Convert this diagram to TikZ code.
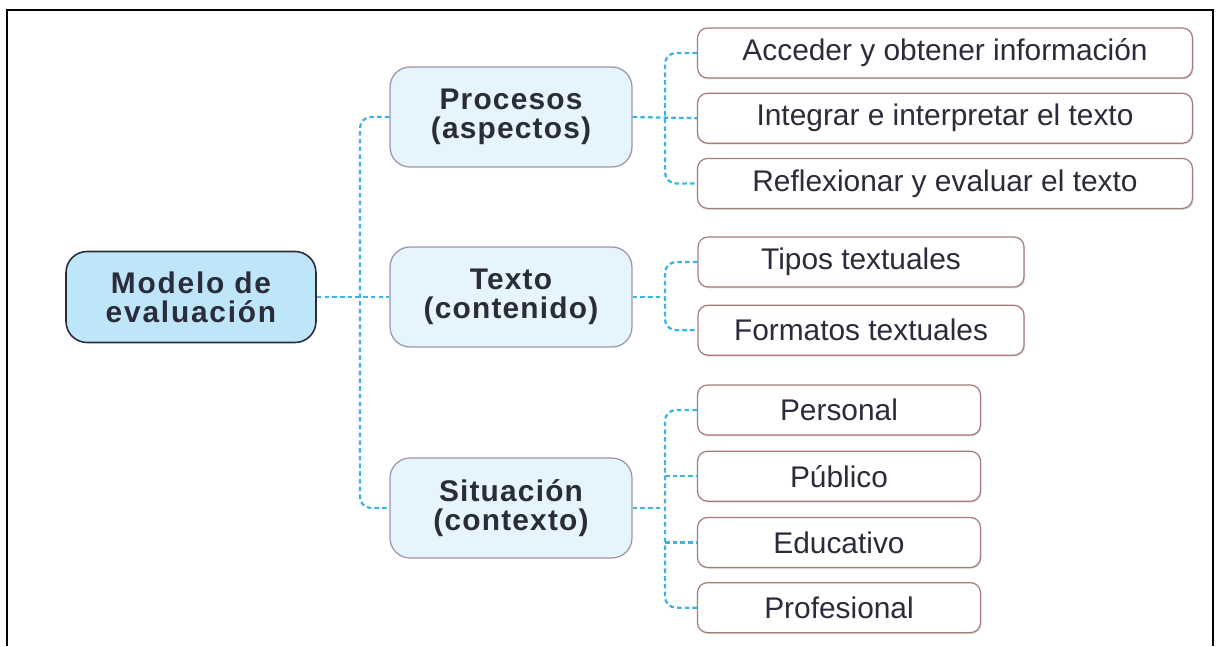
\documentclass[tikz,border=0pt]{standalone}
\usepackage{fontspec}
\setmainfont{Liberation Sans}
\usetikzlibrary{positioning,shadows}

\definecolor{azulfuerte}{HTML}{BEE5F8}
\definecolor{azulclaro}{HTML}{E6F4FC}
\definecolor{enlace}{HTML}{3BB4E4}
\definecolor{bordeho}{HTML}{A47C7A}
\definecolor{bordemed}{HTML}{9C93AE}
\definecolor{tinta}{HTML}{2A2C3C}

\begin{document}
\begin{tikzpicture}[
        x=0.02cm, y=-0.02cm, % coordenadas en pixeles
        raiz/.style={draw=tinta, line width=0.9pt, fill=azulfuerte, rounded corners=0.42cm,
            minimum width=5cm, minimum height=1.82cm, align=center, text=tinta,
            font=\fontsize{17}{16.5}\selectfont\bfseries\addfontfeature{LetterSpace=6}}, % nodo principal
        rama/.style={draw=bordemed, line width=0.7pt, fill=azulclaro, rounded corners=0.4cm,
            minimum width=4.84cm, minimum height=2cm, align=center, text=tinta,
            font=\fontsize{17}{16.5}\selectfont\bfseries\addfontfeature{LetterSpace=4}}, % nodos intermedios
        hoja/.style={draw=bordeho, line width=0.7pt, fill=white, rounded corners=0.2cm,
            minimum height=1cm, text=tinta, font=\fontsize{17}{18}\selectfont,
            drop shadow={opacity=0.25, shadow xshift=0.6pt, shadow yshift=-0.8pt}}, % hojas
        enlace/.style={draw=enlace, line width=1.3pt, dash pattern=on 2.6pt off 1.8pt,
            rounded corners=0.22cm},
    ]

    \useasboundingbox (0,0) rectangle (1219,646);
    \draw[line width=1.5pt] (7,646) -- (7,10) -- (1213,10) -- (1213,646); % marco

    \node[raiz] (modelo) at (191,297) {Modelo de\\evaluación};

    \node[rama] (procesos) at (511,117) {Procesos\\(aspectos)};
    \node[rama] (texto) at (511,297) {Texto\\(contenido)};
    \node[rama] (situacion) at (511,508) {Situación\\(contexto)};

    \node[hoja, minimum width=9.9cm] (acceder) at (945,53) {Acceder y obtener información};
    \node[hoja, minimum width=9.9cm, below=0.28cm of acceder] (integrar) {Integrar e interpretar el texto};
    \node[hoja, minimum width=9.9cm, below=0.28cm of integrar] (reflexionar) {Reflexionar y evaluar el texto};

    \node[hoja, minimum width=6.52cm] (tipos) at (861,262) {Tipos textuales};
    \node[hoja, minimum width=6.52cm, below=0.34cm of tipos] (formatos) {Formatos textuales};

    \node[hoja, minimum width=5.66cm] (personal) at (839,410) {Personal};
    \node[hoja, minimum width=5.66cm, below=0.3cm of personal] (publico) {Público};
    \node[hoja, minimum width=5.66cm, below=0.3cm of publico] (educativo) {Educativo};
    \node[hoja, minimum width=5.66cm, below=0.28cm of educativo] (profesional) {Profesional};

    % troncos de las llaves
    \coordinate (t0) at (360,297);
    \coordinate (t1) at (665,117);
    \coordinate (t2) at (665,297);
    \coordinate (t3) at (665,508);

    \draw[enlace] (modelo.east) -- (texto.west);
    \draw[enlace] (procesos.west) -| (t0) |- (situacion.west);

    \draw[enlace] (procesos.east) -- (integrar.west);
    \draw[enlace] (acceder.west) -| (t1) |- (reflexionar.west);

    \draw[enlace] (texto.east) -- (t2);
    \draw[enlace] (tipos.west) -| (t2) |- (formatos.west);

    \draw[enlace] (situacion.east) -- (t3);
    \draw[enlace] (personal.west) -| (t3) |- (profesional.west);
    \draw[enlace] (t3 |- publico.west) -- (publico.west);
    \draw[enlace] (t3 |- educativo.west) -- (educativo.west);
\end{tikzpicture}
\end{document}
